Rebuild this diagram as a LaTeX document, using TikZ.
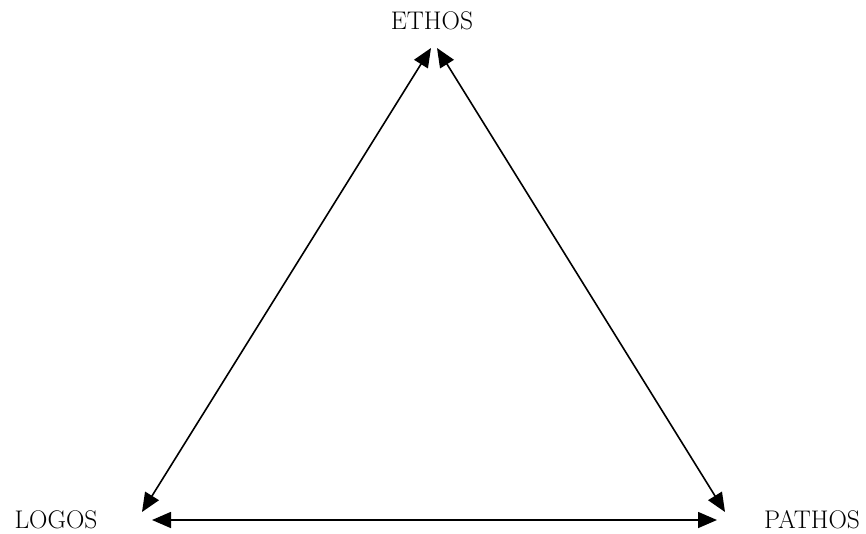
\documentclass[tikz,border=0pt]{standalone}
\usetikzlibrary{arrows.meta}

\begin{document}
\begin{tikzpicture}[
  x=1pt,y=1pt,
  label/.style={font=\fontsize{25.5}{30}\selectfont,text=black,inner sep=0pt},
  arrow/.style={{Triangle[length=19pt,width=16pt]}-{Triangle[length=19pt,width=16pt]},line width=1.6pt,draw=black}
]
\useasboundingbox (0,0) rectangle (866,533);

% the three appeals
\node[label] (ethos) at (432,512) {ETHOS};
\node[label] (logos) at (56,13) {LOGOS};
\node[label] (pathos) at (812,13) {PATHOS};

% arrow ends
\coordinate (ethosL) at (431,485);
\coordinate (ethosR) at (437,485);
\coordinate (logosU) at (142,21);
\coordinate (pathosU) at (725,21);
\coordinate (logosR) at (152,13);
\coordinate (pathosL) at (717,13);

\draw[arrow] (logosU) -- (ethosL);
\draw[arrow] (ethosR) -- (pathosU);
\draw[arrow] (logosR) -- (pathosL);
\end{tikzpicture}
\end{document}
